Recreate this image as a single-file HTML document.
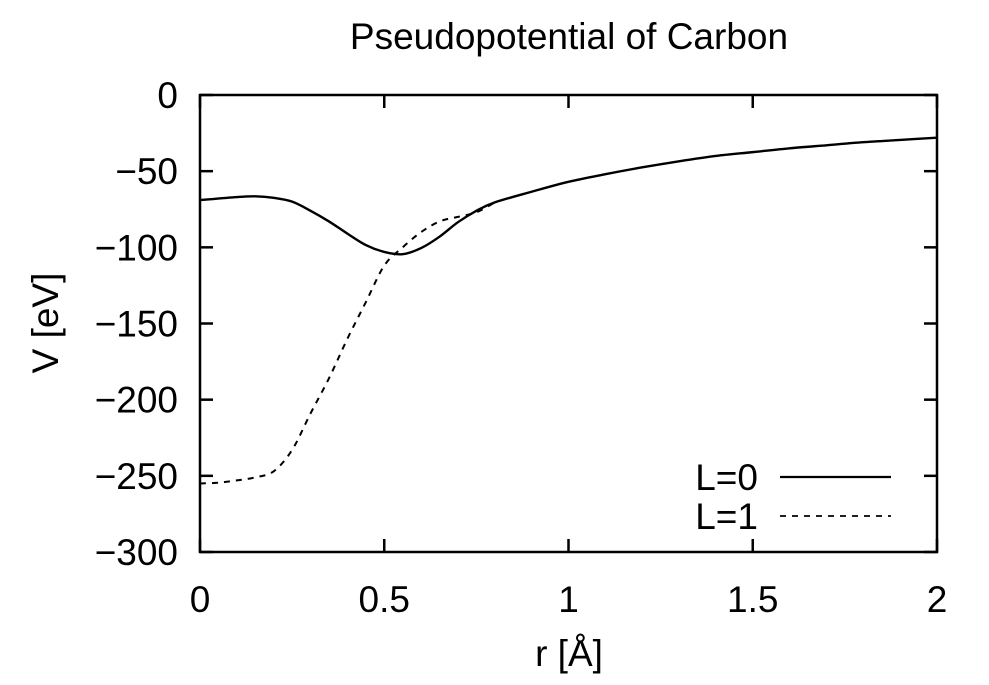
<!DOCTYPE html>
<html><head><meta charset="utf-8"><style>
body{margin:0;background:#fff}
svg{display:block;font-family:"Liberation Sans",sans-serif}
</style></head><body>
<svg id="chart" width="989" height="685" viewBox="0 0 989 685">
<text x="569" y="49" font-size="37" text-anchor="middle">Pseudopotential of Carbon</text>
<g id="axes"></g>
<g id="series"></g>
<rect x="200" y="95" width="737" height="457" fill="none" stroke="#000" stroke-width="2.5"/>
<text x="569" y="666" font-size="37" text-anchor="middle">r [Å]</text>
<text transform="translate(58,323) rotate(-90)" font-size="37" text-anchor="middle">V [eV]</text>
<g>
<text x="758" y="490" font-size="37" text-anchor="end">L=0</text>
<line x1="780" y1="477" x2="891" y2="477" stroke="#000" stroke-width="2.2"/>
<text x="758" y="529" font-size="37" text-anchor="end">L=1</text>
<line x1="780" y1="516" x2="891" y2="516" stroke="#000" stroke-width="1.8" stroke-dasharray="6,6"/>
</g>
</svg>
<script>
const xTicks=[0,0.5,1,1.5,2];
const xTickLabels=["0","0.5","1","1.5","2"];
const yTicks=[0,-50,-100,-150,-200,-250,-300];
const yTickLabels=["0","−50","−100","−150","−200","−250","−300"];
const rL0=[0,0.1,0.15,0.2,0.25,0.3,0.35,0.4,0.45,0.5,0.55,0.6,0.65,0.7,0.75,0.8,0.9,1.0,1.1,1.2,1.3,1.4,1.5,1.6,1.7,1.8,1.9,2.0];
const vL0=[-69,-67,-66.5,-67.5,-70,-76,-83,-91,-98.5,-103,-104.5,-100.5,-93,-83.5,-76,-70.5,-63.5,-57,-52,-47.5,-43.5,-40,-37.5,-35,-33,-31,-29.5,-28];
const rL1=[0,0.05,0.1,0.15,0.2,0.25,0.3,0.35,0.4,0.45,0.5,0.55,0.6,0.65,0.7,0.75,0.8];
const vL1=[-255,-254.5,-253,-251,-247,-233,-209,-186,-160,-136,-112,-100,-90,-83,-80,-77,-70.5];
const X0=200,X1=937,Y0=95,Y1=552;
const xs=v=>X0+(v-0)/(2-0)*(X1-X0);
const ys=v=>Y0+(0-v)/(300)*(Y1-Y0);
const NS="http://www.w3.org/2000/svg";
const axes=document.getElementById('axes'),series=document.getElementById('series');
xTicks.forEach((t,i)=>{
 [[Y1,Y1-13],[Y0,Y0+13]].forEach(([a,b])=>{
  const l=document.createElementNS(NS,'line');
  l.setAttribute('x1',xs(t));l.setAttribute('x2',xs(t));l.setAttribute('y1',a);l.setAttribute('y2',b);
  l.setAttribute('stroke','#000');l.setAttribute('stroke-width','2.5');
  
  
  axes.appendChild(l);});
 const tx=document.createElementNS(NS,'text');
 tx.setAttribute('x',xs(t));tx.setAttribute('y',612);tx.setAttribute('font-size','37');tx.setAttribute('text-anchor','middle');
 tx.textContent=xTickLabels[i];
 
 
 axes.appendChild(tx);
});
yTicks.forEach((t,i)=>{
 [[X0,X0+13],[X1,X1-13]].forEach(([a,b])=>{
  const l=document.createElementNS(NS,'line');
  l.setAttribute('y1',ys(t));l.setAttribute('y2',ys(t));l.setAttribute('x1',a);l.setAttribute('x2',b);
  l.setAttribute('stroke','#000');l.setAttribute('stroke-width','2.5');
  
  
  axes.appendChild(l);});
 const tx=document.createElementNS(NS,'text');
 tx.setAttribute('x',178);tx.setAttribute('y',ys(t)+13);tx.setAttribute('font-size','37');tx.setAttribute('text-anchor','end');
 tx.textContent=yTickLabels[i];
 
 
 axes.appendChild(tx);
});
function line(r,v,dash,name){
 const P=r.map((x,i)=>[xs(x),ys(v[i])]);
 let d='M'+P[0][0]+','+P[0][1];
 for(let i=0;i<P.length-1;i++){
  const p0=P[Math.max(0,i-1)],p1=P[i],p2=P[i+1],p3=P[Math.min(P.length-1,i+2)];
  const c1=[p1[0]+(p2[0]-p0[0])/6,p1[1]+(p2[1]-p0[1])/6];
  const c2=[p2[0]-(p3[0]-p1[0])/6,p2[1]-(p3[1]-p1[1])/6];
  d+=' C'+c1[0]+','+c1[1]+' '+c2[0]+','+c2[1]+' '+p2[0]+','+p2[1];
 }
 const p=document.createElementNS(NS,'path');
 p.setAttribute('d',d);
 p.setAttribute('fill','none');p.setAttribute('stroke','#000');
 p.setAttribute('stroke-width',dash?'2':'2.4');p.setAttribute('stroke-linejoin','round');
 if(dash)p.setAttribute('stroke-dasharray','6,6');
 
 
 series.appendChild(p);
}
line(rL1,vL1,true,'series-l1');
line(rL0,vL0,false,'series-l0');
</script>
</body></html>
